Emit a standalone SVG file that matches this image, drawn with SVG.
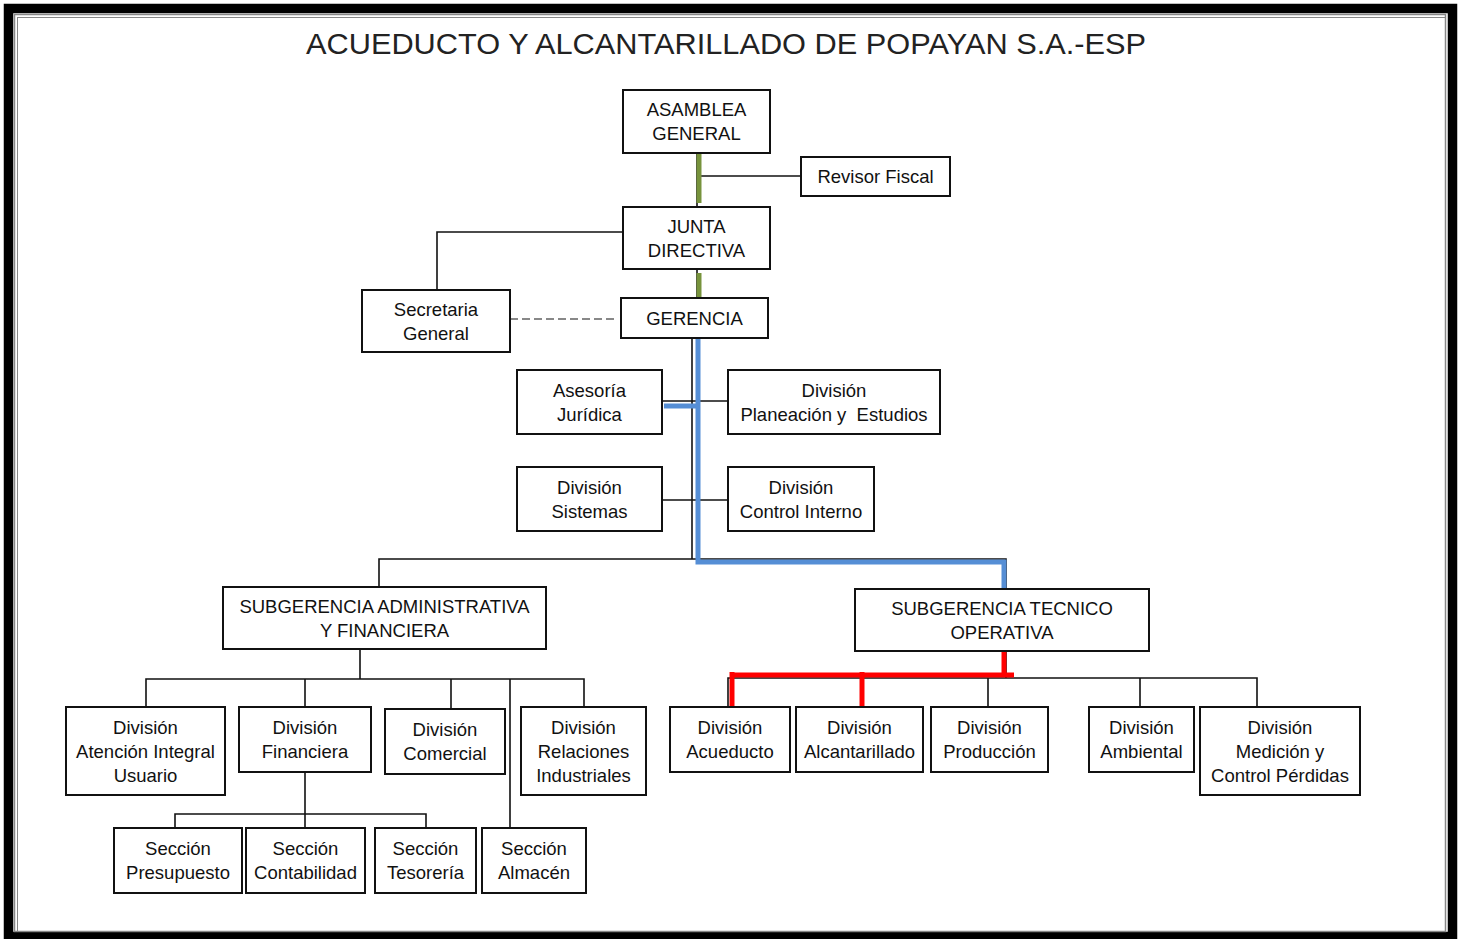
<svg xmlns="http://www.w3.org/2000/svg" width="1460" height="939" viewBox="0 0 1460 939">
<style>
.box{fill:#fff;stroke:#111;stroke-width:2}
.t{font-family:"Liberation Sans",Arial,sans-serif;font-size:18.5px;fill:#111;text-anchor:middle}
.ln{fill:none;stroke:#111;stroke-width:1.6}
.green{fill:none;stroke:#77933C;stroke-width:5}
.blue{fill:none;stroke:#558ED5;stroke-width:5}
.red{fill:none;stroke:#FF0000;stroke-width:5}
.dash{fill:none;stroke:#888;stroke-width:2;stroke-dasharray:8 4}
</style>
<rect x="0" y="0" width="1460" height="939" fill="#fff"/>
<rect x="8.5" y="8.5" width="1444" height="928" fill="none" stroke="#000" stroke-width="9.5"/>
<rect x="14.5" y="14.5" width="1431" height="917" fill="none" stroke="#888" stroke-width="1.5"/>
<rect x="17.5" y="17.5" width="1428" height="914" fill="none" stroke="#888" stroke-width="1"/>
<text x="726" y="54" font-family="'Liberation Sans',Arial,sans-serif" font-size="30" fill="#222" text-anchor="middle" textLength="840" lengthAdjust="spacingAndGlyphs">ACUEDUCTO Y ALCANTARILLADO DE POPAYAN S.A.-ESP</text>

<g id="connectors">
<path class="ln" d="M697 153V207"/>
<path class="ln" d="M699 176H801"/>
<path class="ln" d="M623 232H437V290"/>
<path class="ln" d="M697 269V298"/>
<path class="dash" d="M510 319H614"/>
<path class="ln" d="M692 338V559"/>
<path class="ln" d="M379 587V559H1006V589"/>
<path class="ln" d="M662 401H728"/>
<path class="ln" d="M662 500H728"/>
<path class="ln" d="M360 649V679M146 707V679H584V707M305 679V707M451 679V709M510 679V828"/>
<path class="ln" d="M305 772V814M175 828V814H426V828M305 814V828"/>
<path class="ln" d="M1006 651V678M728 707V678H1257V707M861 678V707M988 678V707M1140 678V707"/>
<path class="green" d="M699 153V203"/>
<path class="green" d="M699 273V305"/>
<path class="blue" d="M698 338V562H1004V596"/>
<path class="blue" d="M664 406H696"/>
<path class="red" d="M1004 644V673"/>
<path class="red" d="M730 675H1014"/>
<path class="red" d="M732 672V712"/>
<path class="red" d="M862 672V706"/>
</g>

<g id="asamblea"><rect class="box" x="623" y="90" width="147" height="63"/><text class="t" x="696.5" y="116">ASAMBLEA</text><text class="t" x="696.5" y="140">GENERAL</text></g>
<g id="revisor"><rect class="box" x="801" y="157" width="149" height="39"/><text class="t" x="875.5" y="183">Revisor Fiscal</text></g>
<g id="junta"><rect class="box" x="623" y="207" width="147" height="62"/><text class="t" x="696.5" y="232.5">JUNTA</text><text class="t" x="696.5" y="256.5">DIRECTIVA</text></g>
<g id="secretaria"><rect class="box" x="362" y="290" width="148" height="62"/><text class="t" x="436" y="315.5">Secretaria</text><text class="t" x="436" y="339.5">General</text></g>
<g id="gerencia"><rect class="box" x="621" y="298" width="147" height="40"/><text class="t" x="694.5" y="324.5">GERENCIA</text></g>
<g id="asesoria"><rect class="box" x="517" y="370" width="145" height="64"/><text class="t" x="589.5" y="396.5">Asesoría</text><text class="t" x="589.5" y="420.5">Jurídica</text></g>
<g id="planeacion"><rect class="box" x="728" y="370" width="212" height="64"/><text class="t" x="834" y="396.5">División</text><text class="t" x="834" y="420.5" style="white-space:pre">Planeación y  Estudios</text></g>
<g id="sistemas"><rect class="box" x="517" y="467" width="145" height="64"/><text class="t" x="589.5" y="493.5">División</text><text class="t" x="589.5" y="517.5">Sistemas</text></g>
<g id="control"><rect class="box" x="728" y="467" width="146" height="64"/><text class="t" x="801" y="493.5">División</text><text class="t" x="801" y="517.5">Control Interno</text></g>
<g id="subadmin"><rect class="box" x="223" y="587" width="323" height="62"/><text class="t" x="384.5" y="612.5">SUBGERENCIA ADMINISTRATIVA</text><text class="t" x="384.5" y="636.5">Y FINANCIERA</text></g>
<g id="subtec"><rect class="box" x="855" y="589" width="294" height="62"/><text class="t" x="1002" y="614.5">SUBGERENCIA TECNICO</text><text class="t" x="1002" y="638.5">OPERATIVA</text></g>
<g id="atencion"><rect class="box" x="66" y="707" width="159" height="88"/><text class="t" x="145.5" y="733.5">División</text><text class="t" x="145.5" y="757.5">Atención Integral</text><text class="t" x="145.5" y="781.5">Usuario</text></g>
<g id="financiera"><rect class="box" x="239" y="707" width="132" height="65"/><text class="t" x="305" y="734">División</text><text class="t" x="305" y="758">Financiera</text></g>
<g id="comercial"><rect class="box" x="385" y="709" width="120" height="65"/><text class="t" x="445" y="736">División</text><text class="t" x="445" y="760">Comercial</text></g>
<g id="relaciones"><rect class="box" x="521" y="707" width="125" height="88"/><text class="t" x="583.5" y="733.5">División</text><text class="t" x="583.5" y="757.5">Relaciones</text><text class="t" x="583.5" y="781.5">Industriales</text></g>
<g id="presupuesto"><rect class="box" x="114" y="828" width="128" height="65"/><text class="t" x="178" y="855">Sección</text><text class="t" x="178" y="879">Presupuesto</text></g>
<g id="contabilidad"><rect class="box" x="246" y="828" width="119" height="65"/><text class="t" x="305.5" y="855">Sección</text><text class="t" x="305.5" y="879">Contabilidad</text></g>
<g id="tesoreria"><rect class="box" x="375" y="828" width="101" height="65"/><text class="t" x="425.5" y="855">Sección</text><text class="t" x="425.5" y="879">Tesorería</text></g>
<g id="almacen"><rect class="box" x="482" y="828" width="104" height="65"/><text class="t" x="534" y="855">Sección</text><text class="t" x="534" y="879">Almacén</text></g>
<g id="acueducto"><rect class="box" x="670" y="707" width="120" height="65"/><text class="t" x="730" y="734">División</text><text class="t" x="730" y="758">Acueducto</text></g>
<g id="alcantarillado"><rect class="box" x="796" y="707" width="127" height="65"/><text class="t" x="859.5" y="734">División</text><text class="t" x="859.5" y="758">Alcantarillado</text></g>
<g id="produccion"><rect class="box" x="931" y="707" width="117" height="65"/><text class="t" x="989.5" y="734">División</text><text class="t" x="989.5" y="758">Producción</text></g>
<g id="ambiental"><rect class="box" x="1089" y="707" width="105" height="65"/><text class="t" x="1141.5" y="734">División</text><text class="t" x="1141.5" y="758">Ambiental</text></g>
<g id="medicion"><rect class="box" x="1200" y="707" width="160" height="88"/><text class="t" x="1280" y="733.5">División</text><text class="t" x="1280" y="757.5">Medición y</text><text class="t" x="1280" y="781.5">Control Pérdidas</text></g>
</svg>
